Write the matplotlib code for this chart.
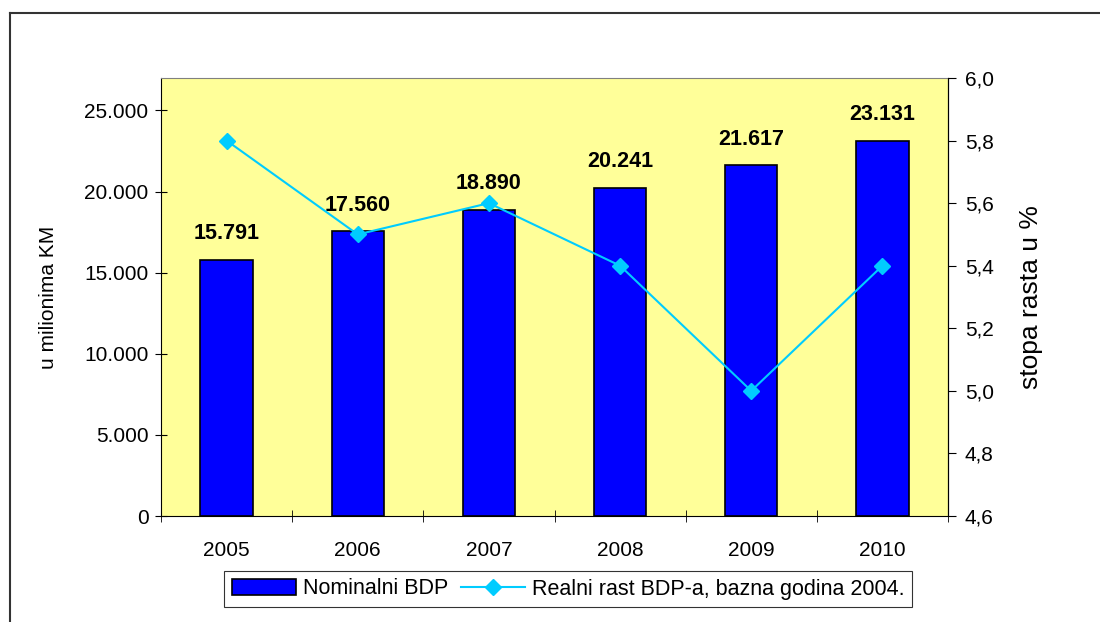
import matplotlib
matplotlib.use("Agg")
import matplotlib.pyplot as plt
from matplotlib.lines import Line2D
import numpy as np

years = ["2005", "2006", "2007", "2008", "2009", "2010"]
nominal = [15791, 17560, 18890, 20241, 21617, 23131]
nominal_labels = ["15.791", "17.560", "18.890", "20.241", "21.617", "23.131"]
real_growth = [5.8, 5.5, 5.6, 5.4, 5.0, 5.4]
left_ticks = [0, 5000, 10000, 15000, 20000, 25000]
left_tick_labels = ["0", "5.000", "10.000", "15.000", "20.000", "25.000"]
right_ticks = [4.6, 4.8, 5.0, 5.2, 5.4, 5.6, 5.8, 6.0]
right_tick_labels = ["4,6", "4,8", "5,0", "5,2", "5,4", "5,6", "5,8", "6,0"]

plt.rcParams['font.family'] = ['Liberation Sans', 'DejaVu Sans']
plt.rcParams['font.size'] = 15

fig = plt.figure(figsize=(11, 6.22), dpi=100)
ax = fig.add_axes([161/1100, 1-516/622, (948-161)/1100, (516-78)/622])
ax.set_facecolor('#FFFF99')

x = np.arange(len(years))
bars = ax.bar(x, nominal, width=0.4, color='#0000FF', edgecolor='black', linewidth=1.2,
              label='Nominalni BDP', zorder=2)
ax.set_xlim(-0.5, len(years) - 0.5)
ax.set_ylim(0, 27000)
ax.set_yticks(left_ticks)
ax.set_yticklabels(left_tick_labels)
ax.set_xticks(x)
ax.set_xticklabels(years)
ax.set_xticks(np.arange(-0.5, len(years), 1), minor=True)
ax.tick_params(axis='x', which='major', length=0, pad=18)
ax.tick_params(axis='x', which='minor', length=8, direction='inout')
ax.tick_params(axis='y', length=8, direction='inout', pad=5)
ax.set_ylabel('u milionima KM', labelpad=19)
for xi, v, lab in zip(x, nominal, nominal_labels):
    ax.text(xi, v + 950, lab, ha='center', va='bottom', fontweight='bold', fontsize=15.5)
for s in ax.spines.values():
    s.set_color('#808080')
ax.spines['left'].set_color('black')
ax.spines['bottom'].set_color('black')
ax.spines['right'].set_color('black')

ax2 = ax.twinx()
ax2.plot(x, real_growth, color='#00CCFF', marker='D', markersize=8, linewidth=1.5,
         label='Realni rast BDP-a, bazna godina 2004.', zorder=3)
ax2.set_ylim(4.6, 6.0)
ax2.set_yticks(right_ticks)
ax2.set_yticklabels(right_tick_labels)
ax2.tick_params(axis='y', length=6, direction='out', pad=6)
ax2.set_ylabel('stopa rasta u %', labelpad=18, fontsize=19)
for s in ax2.spines.values():
    s.set_visible(False)
ax2.spines['right'].set_visible(True)
ax2.spines['right'].set_color('black')

h1, l1 = ax.get_legend_handles_labels()
h2, l2 = ax2.get_legend_handles_labels()
leg = fig.legend(h1 + h2, l1 + l2, loc='center', bbox_to_anchor=(568/1100, 1-589/622),
                 ncol=2, frameon=True, fancybox=False, edgecolor='black', fontsize=15.5,
                 handlelength=3.0, columnspacing=0.6, handletextpad=0.3, borderpad=0.35)
leg.get_frame().set_linewidth(0.8)

fig.add_artist(Line2D([10/1100, 10/1100], [0, 1-13/622], color='#333333', linewidth=1.5,
                      transform=fig.transFigure))
fig.add_artist(Line2D([10/1100, 1], [1-13/622, 1-13/622], color='#333333', linewidth=1.5,
                      transform=fig.transFigure))

fig.savefig('out.png', dpi=100)
